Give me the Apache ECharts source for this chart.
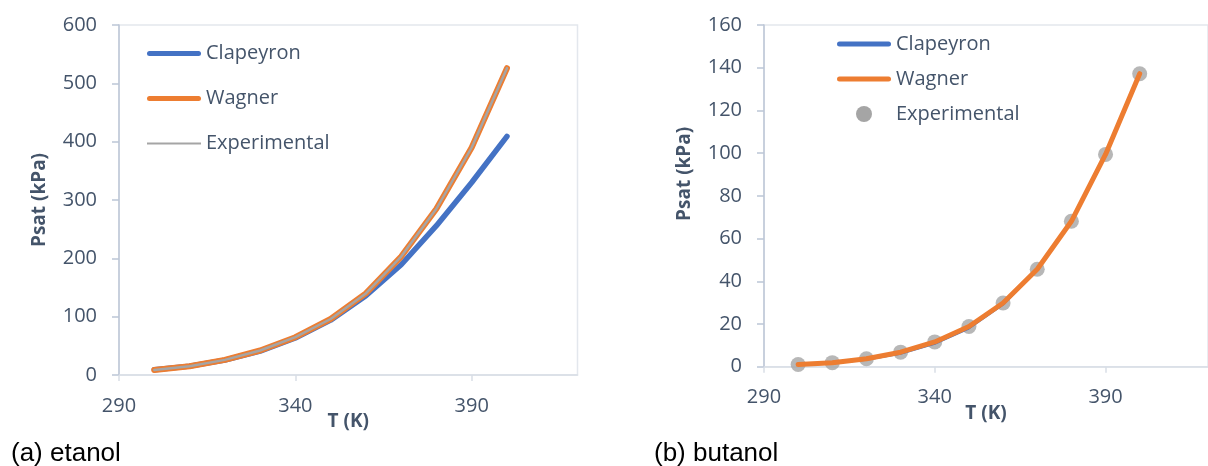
<!DOCTYPE html>
<html lang="en">
<head>
    <meta charset="UTF-8">
    <title>Psat</title>
    <script src="https://cdn.jsdelivr.net/npm/echarts@6/dist/echarts.min.js"></script>
</head>
<style>
    *{
        margin: 0;
        padding: 0;
    }
    html,body{
        width: 100%;
        height: 100%;
        overflow: hidden;
        background: #fff;
    }
    .container{
        width: 1208px;
        height: 466px;
    }
</style>
<body>
<div class="container"></div>
<script>
   // temperatures (K)
   let temps = [300, 310, 320, 330, 340, 350, 360, 370, 380, 390, 400];
   let xTicks = [290, 340, 390];

   // (a) etanol, kPa
   let etanolClapeyron = [8.9, 15.2, 25.5, 41.0, 63.5, 94.0, 136.0, 189.0, 256.0, 330.0, 409.0];
   let etanolWagner = [8.7, 15.0, 25.9, 42.0, 64.8, 96.0, 139.9, 203.0, 285.0, 390.0, 526.0];
   let etanolExp = [8.7, 15.0, 25.9, 42.0, 64.8, 96.0, 139.9, 203.0, 285.0, 390.0, 526.0];

   // (b) butanol, kPa
   let butanolClapeyron = [0.8, 1.6, 3.2, 6.1, 10.7, 17.9, 29.0, 45.2, 68.2, 99.8, 136.8];
   let butanolWagner = [1.0, 1.9, 3.7, 6.8, 11.6, 18.8, 29.8, 45.6, 68.1, 99.4, 137.2];
   let butanolExp = [1.0, 1.9, 3.7, 6.8, 11.6, 18.8, 29.8, 45.6, 68.1, 99.4, 137.2];

   const BLUE = '#4472c4', ORANGE = '#ed7d31', GRAY = '#a5a5a5';
   const TXT = '#44546a';
   const FONT = 'Open Sans';

   let pairs = arr => temps.map((t, i) => [t, arr[i]]);

   let thick = 'path://M2.5,0H51.5A2.5,2.5,0,0,1,51.5,5H2.5A2.5,2.5,0,0,1,2.5,0Z';
   let thin = 'path://M0,0H54V2H0Z';

   let container = document.querySelector('.container');
   let mycharts = echarts.init(container);

   function xAxis(gridIndex){
       return {
           type: 'value', gridIndex,
           min: 290, max: 420, interval: 50,
           name: 'T (K)', nameLocation: 'middle', nameGap: 37, nameMoveOverlap: false,
           nameTextStyle: {color: TXT, fontFamily: FONT, fontWeight: 'bold', fontSize: 19},
           axisLine: {show: true, lineStyle: {color: '#d9dee6', width: 1.5}},
           axisTick: {show: true, length: 6, customValues: xTicks, lineStyle: {color: '#d9dee6', width: 1.5}},
           axisLabel: {color: TXT, fontFamily: FONT, fontSize: 20, margin: 21, customValues: xTicks},
           splitLine: {show: false}
       };
   }
   function yAxis(gridIndex, max, interval, pad){
       return {
           type: 'value', gridIndex,
           min: 0, max, interval,
           name: 'Psat (kPa)', nameLocation: 'middle', nameGap: 70,
           nameTextStyle: {color: TXT, fontFamily: FONT, fontWeight: 'bold', fontSize: 19, padding: pad},
           axisLine: {show: true, lineStyle: {color: '#bcc6d6', width: 1.5}},
           axisTick: {show: true, length: 7, lineStyle: {color: '#bcc6d6', width: 1.5}},
           axisLabel: {color: TXT, fontFamily: FONT, fontSize: 20, margin: 22},
           splitLine: {show: false}
       };
   }

   let options = {
       animation: false,
       textStyle: {fontFamily: FONT},
       title: [
           {text: '(a) etanol', left: 6, top: 436, textStyle: {fontFamily: 'Liberation Sans', fontWeight: 'normal', fontSize: 26, color: '#000'}},
           {text: '(b) butanol', left: 649, top: 436, textStyle: {fontFamily: 'Liberation Sans', fontWeight: 'normal', fontSize: 26, color: '#000'}}
       ],
       grid: [
           {left: 119, top: 25, width: 458.5, height: 350, show: true, borderColor: '#e3e7ed', borderWidth: 1.5},
           {left: 764, top: 25, width: 457.6, height: 341.7, show: true, borderColor: '#e3e7ed', borderWidth: 1.5}
       ],
       legend: [
           {
               left: 147, top: 43.5, orient: 'vertical', padding: 0, itemWidth: 54, itemHeight: 16, itemGap: 25,
               textStyle: {color: TXT, fontFamily: FONT, fontSize: 20, lineHeight: 20},
               itemStyle: {borderWidth: 0},
               data: [
                   {name: 'Clapeyron', icon: thick, itemStyle: {color: BLUE}},
                   {name: 'Wagner', icon: thick, itemStyle: {color: ORANGE}},
                   {name: 'Experimental', icon: thin, itemStyle: {color: GRAY}}
               ]
           },
           {
               left: 837, top: 34, orient: 'vertical', padding: 0, itemWidth: 54, itemHeight: 16, itemGap: 15,
               textStyle: {color: TXT, fontFamily: FONT, fontSize: 20, lineHeight: 20},
               itemStyle: {borderWidth: 0},
               data: [
                   {name: 'Clapeyron', icon: thick, itemStyle: {color: BLUE}},
                   {name: 'Wagner', icon: thick, itemStyle: {color: ORANGE}},
                   {name: 'Experimental', icon: 'circle', itemStyle: {color: GRAY}}
               ]
           }
       ],
       xAxis: [xAxis(0), xAxis(1)],
       yAxis: [yAxis(0, 600, 100, [0, 0, 0, 0]), yAxis(1, 160, 20, [0, 0, 0, 44])],
       series: [
           {name: 'Clapeyron', type: 'line', xAxisIndex: 0, yAxisIndex: 0, symbol: 'none',
            data: pairs(etanolClapeyron), lineStyle: {color: BLUE, width: 5.5, cap: 'round'}, itemStyle: {color: BLUE}},
           {name: 'Wagner', type: 'line', xAxisIndex: 0, yAxisIndex: 0, symbol: 'none',
            data: pairs(etanolWagner), lineStyle: {color: ORANGE, width: 6, cap: 'round'}, itemStyle: {color: ORANGE}},
           {name: 'Experimental', type: 'line', xAxisIndex: 0, yAxisIndex: 0, symbol: 'none',
            data: pairs(etanolExp), lineStyle: {color: GRAY, width: 2.5, cap: 'round'}, itemStyle: {color: GRAY}},

           {name: 'Clapeyron', type: 'line', xAxisIndex: 1, yAxisIndex: 1, symbol: 'none',
            data: pairs(butanolClapeyron), lineStyle: {color: BLUE, width: 2}, itemStyle: {color: BLUE}},
           {name: 'Wagner', type: 'line', xAxisIndex: 1, yAxisIndex: 1, symbol: 'none',
            data: pairs(butanolWagner), lineStyle: {color: ORANGE, width: 5, cap: 'round'}, itemStyle: {color: ORANGE}},
           {name: 'Experimental', type: 'scatter', xAxisIndex: 1, yAxisIndex: 1, symbolSize: 15,
            data: pairs(butanolExp), itemStyle: {color: GRAY}}
       ]
   };
   mycharts.setOption(options);
</script>
</body>
</html>
